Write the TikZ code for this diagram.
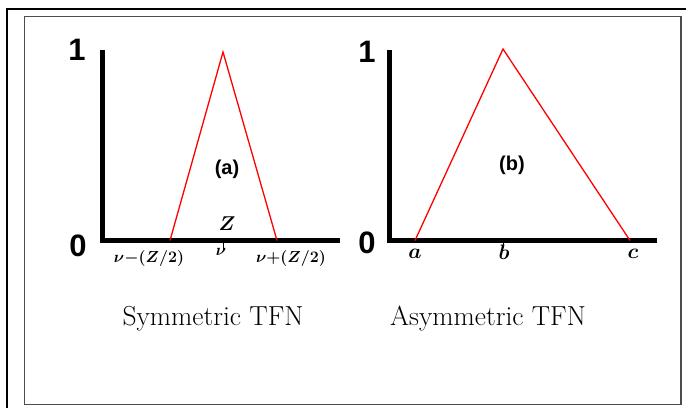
\RequirePackage{fix-cm}
\documentclass[tikz,border=0pt]{standalone}
\usepackage{fontspec}
\newfontfamily\labsans{Liberation Sans}
\begin{document}
\begin{tikzpicture}[x=1pt,y=-1pt,
  axisline/.style={line width=5pt},
  fuzzy/.style={red,line width=1.3pt,line join=miter},
  tickline/.style={line width=0.9pt},
  bignum/.style={font=\labsans\bfseries\fontsize{31}{33}\selectfont,inner sep=0pt},
  panel/.style={font=\labsans\bfseries\fontsize{20}{22}\selectfont,inner sep=0pt},
  mlab/.style={font=\fontsize{16}{18}\selectfont\boldmath,inner sep=0pt},
  zlab/.style={font=\fontsize{20}{22}\selectfont\boldmath,inner sep=0pt},
  letlab/.style={font=\fontsize{21}{23}\selectfont\boldmath,inner sep=0pt},
  caption/.style={font=\fontsize{27.5}{30}\selectfont,inner sep=0pt,anchor=base}]
\useasboundingbox (0,0) rectangle (686,408);
% frames
\draw[line width=2.6pt] (686,9) -- (7,9) -- (7,408);
\draw[black!70,line width=1.6pt] (24.5,16.5) rectangle (681,404.5);
% ---- left chart (symmetric)
\coordinate (La) at (102,50);
\coordinate (Lo) at (102,240.5);
\coordinate (Lx) at (340,240.5);
\draw[axisline] (La) -- (Lo) -- (Lx);
\coordinate (Lleft) at (170,240.5);
\coordinate (Lpeak) at (223,52);
\coordinate (Lright) at (277,240.5);
\draw[fuzzy] (Lleft) -- (Lpeak) -- (Lright);
\coordinate (Ltick) at (223,243);
\coordinate (Ltickend) at (223,250);
\draw[tickline] (Ltick) -- (Ltickend);
\node[bignum] (one1) at (77,50) {1};
\node[bignum] (zero1) at (78,246) {0};
\node[panel] (pa) at (227,169) {(a)};
\node[zlab] (zl) at (227,224) {$Z$};
\node[mlab] (lm) at (149,258) {$\nu{-}(Z/2)$};
\node[mlab] (lv) at (221,252) {$\nu$};
\node[mlab] (lp) at (291,258) {$\nu{+}(Z/2)$};
\node[caption] (capL) at (213,325) {Symmetric TFN};
% ---- right chart (asymmetric)
\coordinate (Ra) at (389,50);
\coordinate (Ro) at (389,240.5);
\coordinate (Rx) at (657,240.5);
\draw[axisline] (Ra) -- (Ro) -- (Rx);
\coordinate (Rleft) at (415,240.5);
\coordinate (Rpeak) at (503,49);
\coordinate (Rright) at (630,240.5);
\draw[fuzzy] (Rleft) -- (Rpeak) -- (Rright);
\coordinate (Rtick) at (503,243);
\coordinate (Rtickend) at (503,248);
\draw[tickline] (Rtick) -- (Rtickend);
\node[bignum] (one2) at (367,52) {1};
\node[bignum] (zero2) at (367,243) {0};
\node[panel] (pb) at (512,165) {(b)};
\node[letlab] (la) at (415,254) {$a$};
\node[letlab] (lb) at (504,252) {$b$};
\node[letlab] (lc) at (633,254) {$c$};
\node[caption] (capR) at (488,325) {Asymmetric TFN};
\end{tikzpicture}
\end{document}
